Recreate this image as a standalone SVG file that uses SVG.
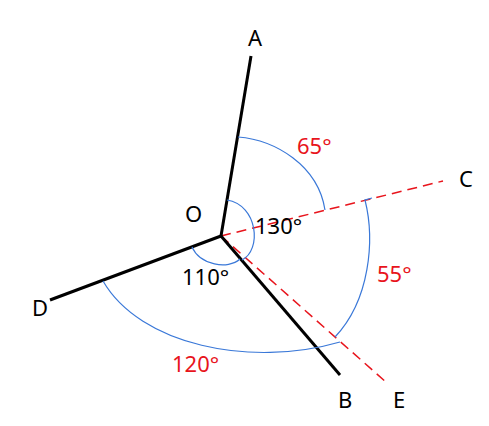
<svg xmlns="http://www.w3.org/2000/svg" width="489" height="426" viewBox="0 0 489 426">
<style>
.ray{stroke:#000;stroke-width:3;fill:none;stroke-linecap:butt}
.dash{stroke:#e8141c;stroke-width:1.5;fill:none;stroke-dasharray:10 6}
.arc{stroke:#3a78d8;stroke-width:1.2;fill:none}
.lbl{font-family:"Noto Sans","Open Sans",sans-serif;font-size:22px;fill:#000}
.red{fill:#e8141c}
</style>
<rect width="489" height="426" fill="#fff"/>
<g id="connectors">
<line class="dash" x1="221" y1="236" x2="443" y2="181"/>
<line class="dash" x1="221" y1="236" x2="387" y2="383"/>
<line class="ray" x1="221" y1="236" x2="251" y2="56"/>
<line class="ray" x1="221" y1="236" x2="50" y2="300"/>
<line class="ray" x1="221" y1="236" x2="340" y2="375"/>
</g>
<g id="arcs">
<path class="arc" d="M238,137 C275,140 318,165 325,210"/>
<path class="arc" d="M372,198 L365,200 C375,240 370,300 335,337"/>
<path class="arc" d="M103,281 C140,345 250,368 340,342"/>
<path class="arc" d="M227,200 C258,205 262,250 242,260"/>
<path class="arc" d="M192,247 C200,265 228,270 240,259"/>
</g>
<g id="labels">
<text id="A" class="lbl" x="248" y="46">A</text>
<text id="C" class="lbl" x="459" y="187">C</text>
<text id="O" class="lbl" x="185" y="222">O</text>
<text id="D" class="lbl" x="32" y="316">D</text>
<text id="B" class="lbl" x="338" y="408">B</text>
<text id="E" class="lbl" x="393" y="408">E</text>
<text class="lbl" x="255" y="234">130°</text>
<text class="lbl" x="182" y="285">110°</text>
<text class="lbl red" x="297" y="154">65°</text>
<text class="lbl red" x="377" y="282">55°</text>
<text class="lbl red" x="172" y="372">120°</text>
</g>
</svg>
